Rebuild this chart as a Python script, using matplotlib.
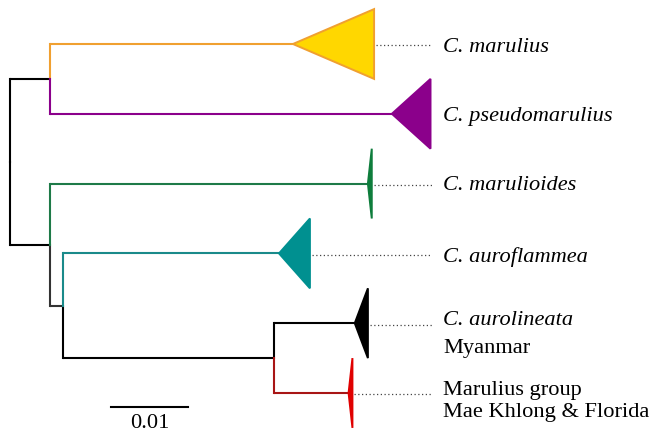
import matplotlib
matplotlib.use('Agg')
import matplotlib.pyplot as plt
from matplotlib.patches import Polygon

plt.rcParams['font.family'] = ['Liberation Serif', 'DejaVu Serif']

######################### Tree data ###########################
# node: (parent, branch length)
NODES = {
    'root': (None, 0.0),
    'A':    ('root', 0.0052),
    'B':    ('root', 0.0052),
    'C':    ('B', 0.0017),
    'D':    ('C', 0.0272),
    'marulius':     ('A', 0.0314),
    'pseudo':       ('A', 0.0442),
    'marulioides':  ('B', 0.0411),
    'auroflammea':  ('C', 0.0279),
    'aurolineata':  ('D', 0.0105),
    'group':        ('D', 0.0097),
}
TIPS = ['marulius', 'pseudo', 'marulioides', 'auroflammea', 'aurolineata', 'group']
# depth of the collapsed clade (triangle width)
CLADE_DEPTH = [0.0105, 0.0050, 0.0005, 0.0040, 0.0017, 0.0005]
LABELS = [[('C. marulius', 'italic')],
          [('C. pseudomarulius', 'italic')],
          [('C. marulioides', 'italic')],
          [('C. auroflammea', 'italic')],
          [('C. aurolineata', 'italic'), ('Myanmar', 'normal')],
          [('Marulius group', 'normal'), ('Mae Khlong & Florida', 'normal')]]
SCALE_LEN = 0.01
###############################################################

BRANCH_COL = {'marulius': '#F0A030', 'pseudo': '#8B008B', 'marulioides': '#1E7A48',
              'auroflammea': '#1A8A8A', 'aurolineata': 'black', 'group': '#A81515',
              'A': 'black', 'B': 'black', 'C': '#333333', 'D': 'black'}
TRI_FILL = ['#FFD700', '#8B008B', '#0E7D3C', '#009090', 'black', '#E00000']
TRI_EDGE = ['#F0A030', '#8B008B', '#0E7D3C', '#009090', 'black', '#E00000']

# x positions from branch lengths
xs = {}
def get_x(n):
    if n not in xs:
        p, bl = NODES[n]
        xs[n] = 0.0 if p is None else get_x(p) + bl
    return xs[n]
for n in NODES:
    get_x(n)

children = {}
for n, (p, bl) in NODES.items():
    if p is not None:
        children.setdefault(p, []).append(n)

ys = {t: i for i, t in enumerate(TIPS)}
def get_y(n):
    if n not in ys:
        ys[n] = sum(get_y(c) for c in children[n]) / len(children[n])
    return ys[n]
get_y('root')

fig = plt.figure(figsize=(6.52, 4.32), dpi=100)
ax = fig.add_axes([0, 0, 1, 1])

px = 7730.0  # pixels per unit of branch length
ax.set_xlim(-10 / px, 642 / px)
ax.set_ylim(388 / 69.8, -44 / 69.8)
ax.axis('off')

LW = 1.5
for n, (p, bl) in NODES.items():
    if p is None:
        continue
    col = BRANCH_COL[n]
    # horizontal branch
    ax.plot([xs[p], xs[n]], [ys[n], ys[n]], color=col, lw=LW, solid_capstyle='butt')
    # vertical half from parent's midpoint to this child
    pcol = 'black' if p == 'root' else col
    ax.plot([xs[p], xs[p]], [ys[p], ys[n]], color=pcol, lw=LW, solid_capstyle='projecting')

# collapsed clades and labels
dot_end = 422 / px
for i, t in enumerate(TIPS):
    x0, y0 = xs[t], ys[t]
    x1 = x0 + CLADE_DEPTH[i]
    tri = Polygon([(x0, y0), (x1, y0 - 0.5), (x1, y0 + 0.5)], closed=True,
                  facecolor=TRI_FILL[i], edgecolor=TRI_EDGE[i], lw=1.4, zorder=3)
    ax.add_patch(tri)
    if x1 + 3 / px < dot_end:
        ax.plot([x1 + 2 / px, dot_end], [y0 + 0.02, y0 + 0.02], color='#444444',
                lw=0.9, linestyle=(0, (1, 2)))

offsets = [[0.12], [0.10], [0.09], [0.12], [0.02, 0.42], [0.03, 0.34]]
for i, lines in enumerate(LABELS):
    for (txt, style), off in zip(lines, offsets[i]):
        ax.text(433 / px, ys[TIPS[i]] + off, txt, fontsize=16.1, style=style,
                ha='left', va='baseline', color='black')

# scale bar
sb_x = 101 / px
sb_y = 363 / 69.8
ax.plot([sb_x, sb_x + SCALE_LEN], [sb_y, sb_y], color='black', lw=1.5)
ax.text(sb_x + SCALE_LEN / 2, 384 / 69.8, '{}'.format(SCALE_LEN), fontsize=16.1,
        ha='center', va='baseline')

fig.savefig('out.png', dpi=100)
